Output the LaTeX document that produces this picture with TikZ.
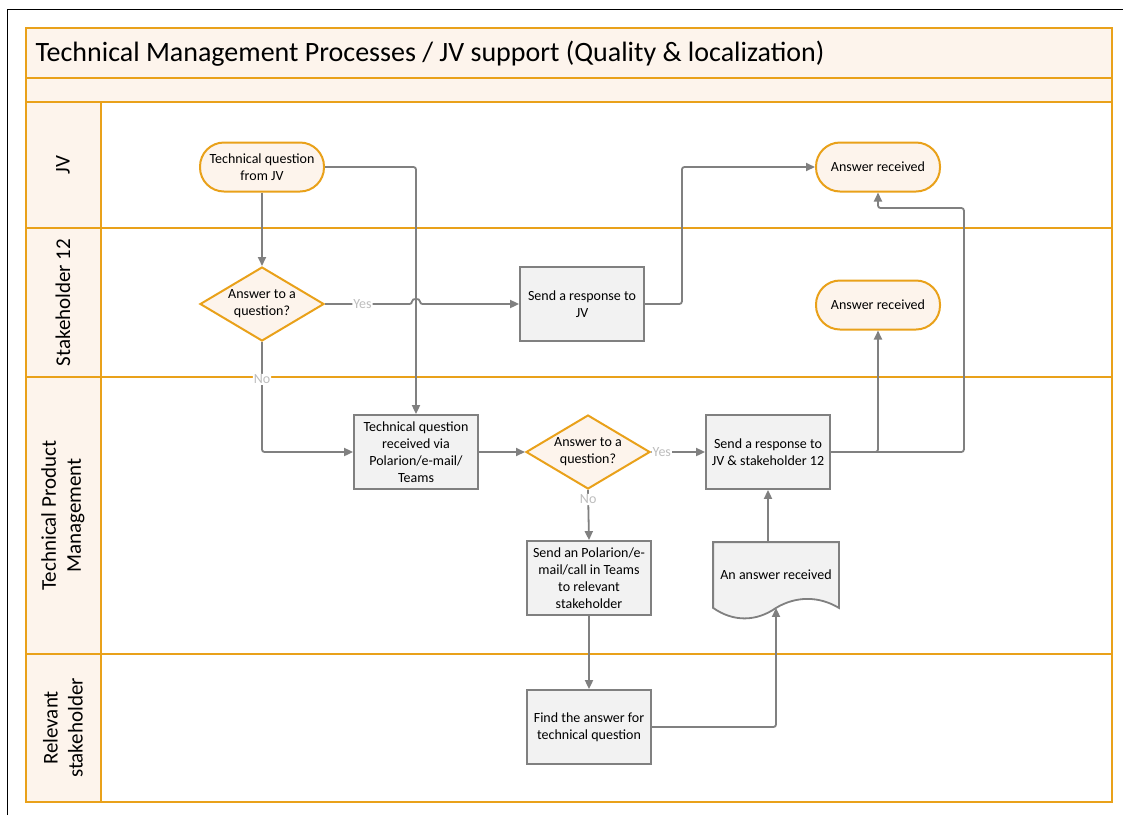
\documentclass[tikz,border=0pt]{standalone}
\usepackage{fontspec}
\setmainfont{Carlito}
\usetikzlibrary{shapes.geometric,arrows.meta,backgrounds}
\definecolor{laneorange}{HTML}{E9A11A}
\definecolor{lanefill}{HTML}{FDF4EC}
\definecolor{flowgray}{HTML}{808080}
\definecolor{boxfill}{HTML}{F2F2F2}
\definecolor{lblgray}{HTML}{BDBDBD}
\tikzset{
  band/.style={draw=laneorange,line width=2.2pt,fill=lanefill},
  laneline/.style={draw=laneorange,line width=2.2pt},
  term/.style={draw=laneorange,fill=lanefill,line width=2pt,rounded corners=24pt,
    minimum width=124pt,minimum height=49pt,align=center,font=\fontsize{14}{17}\selectfont},
  proc/.style={draw=flowgray,fill=boxfill,line width=1.8pt,minimum width=124pt,
    minimum height=74pt,inner xsep=2pt,align=center,font=\fontsize{14}{17}\selectfont},
  dec/.style={diamond,draw=laneorange,fill=lanefill,line width=2pt,aspect=1.7,inner sep=0pt,
    minimum width=124pt,minimum height=74pt,align=center,font=\fontsize{14}{17}\selectfont},
  flow/.style={draw=flowgray,line width=1.8pt,-{Triangle[length=9pt,width=8pt]},rounded corners=2.5pt},
  lbl/.style={text=lblgray,fill=white,inner sep=1pt,font=\fontsize{14}{16}\selectfont}
}
\begin{document}
\begin{tikzpicture}[x=1pt,y=-1pt]
  \useasboundingbox (0,0) rectangle (1123,815);
  \draw[line width=1pt] (7,815) -- (7,9) -- (1123,9);
  \draw[band] (26,28) rectangle (1112,78);
  \draw[band] (26,78) rectangle (1112,102);
  \node[anchor=west,font=\fontsize{28}{32}\selectfont] (title) at (32,54)
    {Technical Management Processes / JV support (Quality \& localization)};
  \foreach \ytop/\ybot/\lname in {102/228/JV,228/377/Stakeholder 12,
      377/654/{Technical Product\\Management},654/802/{Relevant\\stakeholder}} {
    \draw[laneline] (101,\ytop) rectangle (1112,\ybot);
    \draw[band] (26,\ytop) rectangle (101,\ybot);
    \node[rotate=90,align=center,font=\fontsize{21}{25}\selectfont] (lane\ytop)
      at (63,{(\ytop+\ybot)/2}) {\lname};
  }

  \node[term] (askjv) at (262,167) {Technical question\\from JV};
  \node[term] (gotjv) at (878,167) {Answer received};
  \node[term] (gotsh) at (878,305) {Answer received};
  \node[dec] (decsh) at (262,304) {Answer to a\\question?};
  \node[proc] (replyjv) at (582,304) {Send a response to\\JV};
  \node[proc] (receive) at (416,452) {Technical question\\received via\\Polarion/e-mail/\\Teams};
  \node[dec] (dectpm) at (588,452) {Answer to a\\question?};
  \node[proc] (replyall) at (768,452) {Send a response to\\JV \& stakeholder 12};
  \node[proc] (forward) at (589,578) {Send an Polarion/e-\\mail/call in Teams\\to relevant\\stakeholder};
  \node[proc,draw=none,fill=none,minimum height=64pt] (answer) at (776,575) {An answer received};
  \node[proc] (find) at (589,727) {Find the answer for\\technical question};
  \begin{scope}[on background layer]
    \draw[draw=flowgray,fill=boxfill,line width=1.8pt] (answer.south east) -- (answer.north east)
      -- (answer.north west) -- (answer.south west)
      .. controls ([xshift=20pt,yshift=-14pt]answer.south west) and ([xshift=-20pt,yshift=-14pt]answer.south) .. (answer.south)
      .. controls ([xshift=20pt,yshift=12pt]answer.south) and ([xshift=-20pt,yshift=12pt]answer.south east) .. cycle;
  \end{scope}

  \coordinate (hop) at (receive.north |- decsh.east);
  \draw[flow] (askjv.south) -- (decsh.north);
  \draw[flow] (askjv.east) -| (receive.north);
  \draw[flow] (decsh.east) -- node[lbl,pos=0.43] {Yes} ([xshift=-4pt]hop)
    .. controls +(0,-6) and +(0,-6) .. ([xshift=4pt]hop) -- (replyjv.west);
  \draw[flow] (decsh.south) |- node[lbl,pos=0.17] {No} (receive.west);
  \draw[flow] (replyjv.east) -- ++(37,0) |- (gotjv.west);
  \draw[flow] (receive.east) -- (dectpm.west);
  \draw[flow] (dectpm.east) -- node[lbl,pos=0.2] {Yes} (replyall.west);
  \draw[flow] (dectpm.south) -- node[lbl,pos=0.19] {No} (forward.north);
  \draw[flow] (replyall.east) -| (gotsh.south);
  \draw[flow] (replyall.east) -| ++(133,-244) -| (gotjv.south);
  \draw[flow] (forward.south) -- (find.north);
  \draw[flow] (find.east) -| (answer.south);
  \draw[flow] (replyall.south |- answer.north) -- (replyall.south);
\end{tikzpicture}
\end{document}
